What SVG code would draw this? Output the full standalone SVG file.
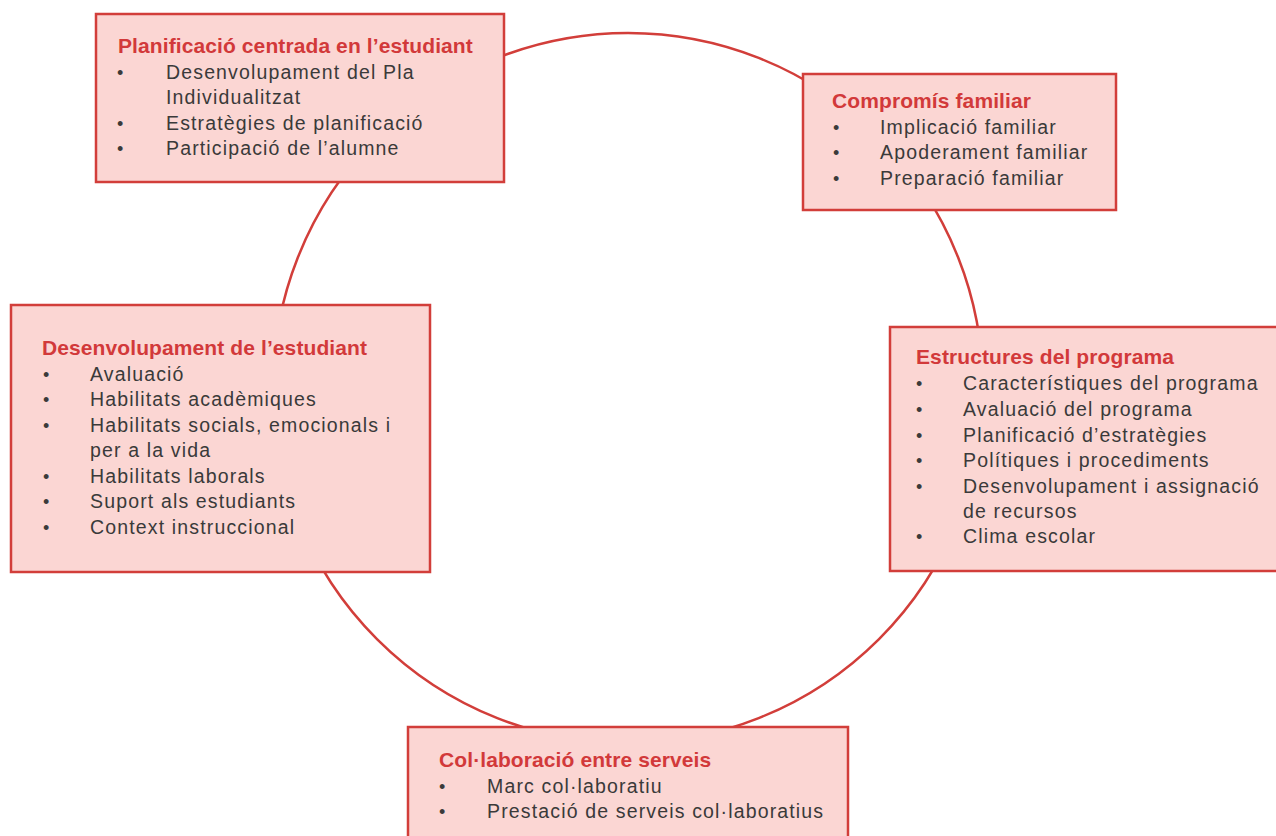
<svg xmlns="http://www.w3.org/2000/svg" width="1276" height="836" viewBox="0 0 1276 836">
<style>
.box{fill:#fbd6d3;stroke:#d23e3a;stroke-width:2.5}
.ring{fill:none;stroke:#d23e3a;stroke-width:2.5}
.t{font-family:"Liberation Sans",Arial,sans-serif;font-weight:bold;font-size:21px;letter-spacing:0.1px;fill:#d2393a}
.i{font-family:"Liberation Sans",Arial,sans-serif;font-size:19.5px;letter-spacing:1.15px;fill:#3a3a3a}
.b{font-family:"Liberation Sans",Arial,sans-serif;font-size:18px;fill:#3a3a3a}
</style>
<rect width="1276" height="836" fill="#ffffff"/>
<g id="connectors">
<circle class="ring" cx="628" cy="388" r="355"/>
</g>
<g id="node-planificacio">
<rect class="box" x="96" y="14" width="408" height="168"/>
<text class="t" x="118" y="53">Planificació centrada en l’estudiant</text>
<text class="b" x="117" y="79">•</text><text class="i" x="166" y="79">Desenvolupament del Pla</text>
<text class="i" x="166" y="104">Individualitzat</text>
<text class="b" x="117" y="130">•</text><text class="i" x="166" y="130">Estratègies de planificació</text>
<text class="b" x="117" y="155">•</text><text class="i" x="166" y="155">Participació de l’alumne</text>
</g>
<g id="node-compromis">
<rect class="box" x="803" y="74" width="313" height="136"/>
<text class="t" x="832" y="108">Compromís familiar</text>
<text class="b" x="833" y="134">•</text><text class="i" x="880" y="134">Implicació familiar</text>
<text class="b" x="833" y="159">•</text><text class="i" x="880" y="159">Apoderament familiar</text>
<text class="b" x="833" y="185">•</text><text class="i" x="880" y="185">Preparació familiar</text>
</g>
<g id="node-desenvolupament">
<rect class="box" x="11" y="305" width="419" height="267"/>
<text class="t" x="42" y="355">Desenvolupament de l’estudiant</text>
<text class="b" x="43" y="381">•</text><text class="i" x="90" y="381">Avaluació</text>
<text class="b" x="43" y="406">•</text><text class="i" x="90" y="406">Habilitats acadèmiques</text>
<text class="b" x="43" y="432">•</text><text class="i" x="90" y="432">Habilitats socials, emocionals i</text>
<text class="i" x="90" y="457">per a la vida</text>
<text class="b" x="43" y="483">•</text><text class="i" x="90" y="483">Habilitats laborals</text>
<text class="b" x="43" y="508">•</text><text class="i" x="90" y="508">Suport als estudiants</text>
<text class="b" x="43" y="534">•</text><text class="i" x="90" y="534">Context instruccional</text>
</g>
<g id="node-estructures">
<rect class="box" x="890" y="327" width="400" height="244"/>
<text class="t" x="916" y="364">Estructures del programa</text>
<text class="b" x="916" y="390">•</text><text class="i" x="963" y="390">Característiques del programa</text>
<text class="b" x="916" y="416">•</text><text class="i" x="963" y="416">Avaluació del programa</text>
<text class="b" x="916" y="442">•</text><text class="i" x="963" y="442">Planificació d’estratègies</text>
<text class="b" x="916" y="467">•</text><text class="i" x="963" y="467">Polítiques i procediments</text>
<text class="b" x="916" y="493">•</text><text class="i" x="963" y="493">Desenvolupament i assignació</text>
<text class="i" x="963" y="518">de recursos</text>
<text class="b" x="916" y="543">•</text><text class="i" x="963" y="543">Clima escolar</text>
</g>
<g id="node-collaboracio">
<rect class="box" x="408" y="727" width="440" height="130"/>
<text class="t" x="439" y="767">Col·laboració entre serveis</text>
<text class="b" x="439" y="793">•</text><text class="i" x="487" y="793">Marc col·laboratiu</text>
<text class="b" x="439" y="818">•</text><text class="i" x="487" y="818">Prestació de serveis col·laboratius</text>
</g>
</svg>
